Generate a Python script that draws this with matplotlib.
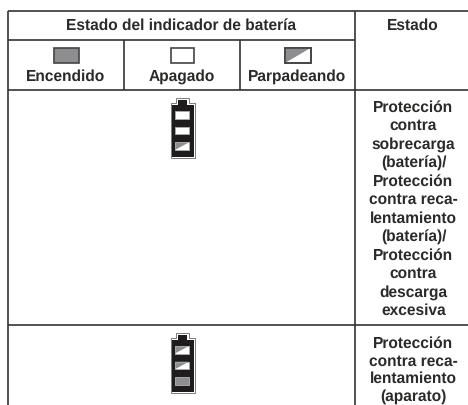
import matplotlib
matplotlib.use("Agg")
import matplotlib.pyplot as plt
from matplotlib.patches import Rectangle, Polygon

header_left = "Estado del indicador de batería"
header_right = "Estado"
legend_labels = ["Encendido", "Apagado", "Parpadeando"]
legend_states = ["on", "off", "blink"]
row1_states = ["off", "off", "blink"]
row2_states = ["blink", "blink", "on"]
row1_text = ["Protección", "contra", "sobrecarga", "(batería)/", "Protección", "contra reca-",
             "lentamiento", "(batería)/", "Protección", "contra", "descarga", "excesiva"]
row2_text = ["Protección", "contra reca-", "lentamiento", "(aparato)"]

INK = "#2b2a29"
GREY = "#8e8e90"
plt.rcParams["font.family"] = ["Liberation Sans", "DejaVu Sans"]
plt.rcParams["text.hinting"] = "none"

fig = plt.figure(figsize=(4.68, 4.05), dpi=100)
ax = fig.add_axes([0, 0, 1, 1])
ax.set_xlim(0, 468)
ax.set_ylim(405, 0)
ax.axis("off")


def txt(x, y, s):
    ax.text(x, y, s, ha="center", va="center", fontsize=11.2, fontweight="bold", color=INK)


def cell(x0, y0, x1, y1, state, edge=INK, lw=1.0):
    ax.add_patch(Rectangle((x0, y0), x1 - x0, y1 - y0, fc="white" if state != "on" else GREY,
                           ec=edge, lw=lw, zorder=3))
    if state == "blink":
        ax.add_patch(Polygon([(x0, y0), (x1, y0), (x0, y1)], closed=True, fc=GREY, ec="none", zorder=4))
        ax.add_patch(Rectangle((x0, y0), x1 - x0, y1 - y0, fc="none", ec=edge, lw=lw, zorder=5))


def battery(top, states):
    ax.add_patch(Polygon([(170.8, top + 5), (176, top + 5), (176, top), (188.5, top), (188.5, top + 5),
                          (194.8, top + 5), (194.8, top + 60), (170.8, top + 60)],
                         closed=True, fc="white", ec="#666666", lw=0.6, zorder=2))
    ax.add_patch(Polygon([(172, top + 6.5), (178, top + 6.5), (178, top + 2), (187, top + 2), (187, top + 6.5),
                          (193.5, top + 6.5), (193.5, top + 59), (172, top + 59)],
                         closed=True, fc="#1f1c1d", ec="none", zorder=2))
    for i, s in enumerate(states):
        y = top + 13 + i * 15.7
        cell(175, y, 189, y + 7.5, s, edge="#a8a8a8", lw=0.7)


# grid lines
for y, x1 in [(11, 468), (39.5, 355), (89.5, 468), (325, 468)]:
    ax.plot([8, x1], [y, y], color="#333333", lw=1.2, solid_capstyle="butt")
for x, y0, y1 in [(8, 11, 405), (355, 11, 405), (124, 39.5, 89.5), (239.5, 39.5, 89.5)]:
    ax.plot([x, x], [y0, y1], color="#333333", lw=1.2, solid_capstyle="butt")

txt(181.5, 26, header_left)
txt(413, 26, header_right)
label_x = [66, 181.5, 297]
swatches = [(54, 78.5), (170.5, 193.5), (285, 310.5)]
for lx, (sx0, sx1), lab, st in zip(label_x, swatches, legend_labels, legend_states):
    cell(sx0, 48, sx1, 63, st, edge="#444444", lw=1.2)
    txt(lx, 77, lab)

battery(98, row1_states)
battery(333, row2_states)

for i, s in enumerate(row1_text):
    txt(413.5, 107.5 + i * 18.5, s)
for i, s in enumerate(row2_text):
    txt(413.5, 344 + i * 17.5, s)

fig.savefig("out.png", dpi=100)
